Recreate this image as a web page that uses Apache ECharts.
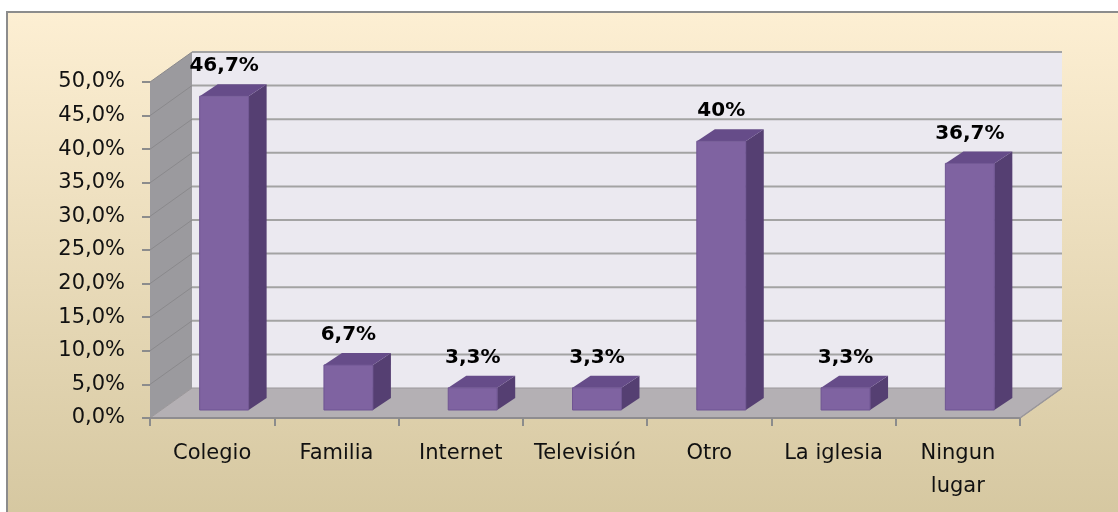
<!DOCTYPE html>
<html>
<head>
<meta charset="utf-8">
<script src="https://cdn.jsdelivr.net/npm/echarts@6/dist/echarts.min.js"></script>
<style>
  html, body { margin: 0; padding: 0; background: #ffffff; }
  #chart { width: 1118px; height: 512px; }
</style>
</head>
<body>
<div id="chart"></div>
<script>
// data
var categories = ['Colegio', 'Familia', 'Internet', 'Televisión', 'Otro', 'La iglesia', 'Ningun lugar'];
var values = [46.7, 6.7, 3.3, 3.3, 40, 3.3, 36.7];
var yTicks = [0, 5, 10, 15, 20, 25, 30, 35, 40, 45, 50];

// depth of the box (back wall offset) and of the bars
var DX = 42, DY = -30;
var BX = 12, BY = -8;     // bar front face offset from the front plane
var BDX = 18, BDY = -12;  // bar depth

var FONT = 'DejaVu Sans';

function pctLabel(v) {
  if (v % 1 === 0) return v + '%';
  return v.toFixed(1).replace('.', ',') + '%';
}

function renderWalls(params, api) {
  var cs = params.coordSys;
  var x = cs.x, y = cs.y, w = cs.width, h = cs.height;
  var yb = y + h;
  var children = [];
  // back wall
  children.push({ type: 'rect', shape: { x: x + DX, y: y + DY, width: w, height: h },
    style: { fill: '#ebe9f0' } });
  // left side wall
  children.push({ type: 'polygon', shape: { points: [[x, yb], [x, y], [x + DX, y + DY], [x + DX, yb + DY]] },
    style: { fill: '#9b9a9e' } });
  // floor
  children.push({ type: 'polygon', shape: { points: [[x, yb], [x + w, yb], [x + w + DX, yb + DY], [x + DX, yb + DY]] },
    style: { fill: '#b4b0b4', stroke: '#9a979b', lineWidth: 1 } });
  // grid lines
  for (var k = 1; k < yTicks.length; k++) {
    var yy = api.coord([0, yTicks[k]])[1];
    children.push({ type: 'line', shape: { x1: x + DX, y1: yy + DY, x2: x + w + DX, y2: yy + DY },
      style: { stroke: '#a3a3a3', lineWidth: 2 } });
    children.push({ type: 'line', shape: { x1: x, y1: yy, x2: x + DX, y2: yy + DY },
      style: { stroke: '#8a898c', lineWidth: 1 } });
  }
  // floor edges
  children.push({ type: 'line', shape: { x1: x, y1: yb, x2: x + w, y2: yb },
    style: { stroke: '#8e8c8f', lineWidth: 2 } });
  children.push({ type: 'line', shape: { x1: x + w, y1: yb, x2: x + w + DX, y2: yb + DY },
    style: { stroke: '#9a979b', lineWidth: 1.5 } });
  return { type: 'group', children: children };
}

function renderBar(params, api) {
  var i = api.value(0), v = api.value(1);
  var base = api.coord([i, 0]);
  var top = api.coord([i, v]);
  var band = api.size([1, 0])[0];
  var bw = band * 0.394;
  var x0 = base[0] + BX - bw / 2, x1 = x0 + bw;
  var yb = base[1] + BY, yt = top[1] + BY;
  return {
    type: 'group',
    children: [
      { type: 'polygon', shape: { points: [[x1, yt], [x1 + BDX, yt + BDY], [x1 + BDX, yb + BDY], [x1, yb]] },
        style: { fill: '#553f72' } },
      { type: 'polygon', shape: { points: [[x0, yt], [x0 + BDX, yt + BDY], [x1 + BDX, yt + BDY], [x1, yt]] },
        style: { fill: '#664c89' } },
      { type: 'rect', shape: { x: x0, y: yt, width: bw, height: yb - yt },
        style: { fill: '#7f63a1', stroke: '#6f5592', lineWidth: 1 } },
      { type: 'text', x: x0 + bw / 2, y: yt - 30,
        style: { text: pctLabel(v), fill: '#000', font: 'bold 20px "' + FONT + '"',
          align: 'center', verticalAlign: 'middle' } }
    ]
  };
}

var chart = echarts.init(document.getElementById('chart'));

var option = {
  animation: false,
  backgroundColor: '#ffffff',
  graphic: [{
    type: 'rect', z: -10, silent: true,
    shape: { x: 7, y: 12, width: 1120, height: 510 },
    style: {
      fill: new echarts.graphic.LinearGradient(0, 0, 0, 1, [
        { offset: 0, color: '#fdefd3' },
        { offset: 1, color: '#d5c7a0' }
      ]),
      stroke: '#8c8c8c', lineWidth: 2
    }
  }],
  grid: { left: 150, right: 98, top: 82, bottom: 94 },
  xAxis: {
    type: 'category',
    data: categories,
    z: 5,
    axisLine: { show: false },
    axisTick: { show: true, length: 8, lineStyle: { color: '#8c8c8c', width: 2 } },
    axisLabel: {
      interval: 0, hideOverlap: false,
      color: '#111', fontFamily: FONT, fontSize: 21, margin: 19, lineHeight: 33,
      formatter: function (name) { return name.replace('Ningun ', 'Ningun\n'); }
    },
    splitLine: { show: false }
  },
  yAxis: {
    type: 'value',
    min: 0, max: 50, interval: 5,
    z: 5,
    axisLine: { show: false },
    axisTick: { show: true, length: 8, lineStyle: { color: '#8c8c8c', width: 2 } },
    axisLabel: {
      color: '#111', fontFamily: FONT, fontSize: 21, margin: 25,
      formatter: function (v) { return v.toFixed(1).replace('.', ',') + '%'; }
    },
    splitLine: { show: false }
  },
  series: [
    {
      type: 'custom', name: 'walls', z: 1, silent: true,
      renderItem: renderWalls,
      data: [[0, 0]]
    },
    {
      type: 'custom', name: 'bars', z: 3,
      renderItem: renderBar,
      encode: { x: 0, y: 1 },
      data: values.map(function (v, i) { return [i, v]; })
    }
  ]
};

chart.setOption(option);
</script>
</body>
</html>
